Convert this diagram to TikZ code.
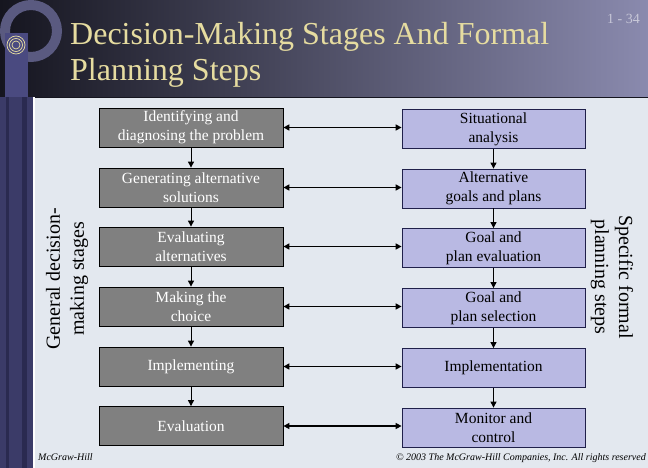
\documentclass[tikz,border=0pt]{standalone}
\usepackage{fontspec}
\setmainfont{Liberation Serif}
\usetikzlibrary{arrows.meta}
\definecolor{bgc}{HTML}{E3E8EF}
\definecolor{hdl}{HTML}{15151F}
\definecolor{hdm}{HTML}{474762}
\definecolor{hdr}{HTML}{8A8AAE}
\definecolor{sidec}{HTML}{3B3B68}
\definecolor{sided}{HTML}{2A2A50}
\definecolor{ringc}{HTML}{5A5A80}
\definecolor{barc}{HTML}{4A4A80}
\definecolor{titlec}{HTML}{E6DCA0}
\definecolor{pagec}{HTML}{C8C8D8}
\definecolor{lboxc}{HTML}{808080}
\definecolor{rboxc}{HTML}{B9B9E3}
\definecolor{rdraw}{HTML}{20204A}
\tikzset{
  lbox/.style={draw=black, fill=lboxc, line width=0.8pt, minimum width=184pt, minimum height=39pt,
    inner sep=0pt, align=center, text=white, font=\fontsize{15.5}{19}\selectfont},
  rbox/.style={draw=rdraw, fill=rboxc, line width=0.8pt, minimum width=183pt, minimum height=39pt,
    inner sep=0pt, align=center, text=black, font=\fontsize{15.5}{19}\selectfont},
  harrow/.style={line width=1.5pt, {Triangle[length=6pt,width=6pt]}-{Triangle[length=6pt,width=6pt]}},
  varrow/.style={line width=1pt, -{Triangle[length=6pt,width=6pt]}},
  sidelab/.style={align=center, font=\fontsize{20}{24}\selectfont, text=black},
  foot/.style={font=\fontsize{10}{12}\selectfont\itshape, text=black, inner sep=0pt}
}
\begin{document}
\begin{tikzpicture}[x=1pt,y=-1pt]
\useasboundingbox (0,0) rectangle (648,468);
% background
\fill[bgc] (0,0) rectangle (648,468);
\shade[left color=hdl, middle color=hdm, right color=hdr] (0,0) rectangle (648,97);
% sidebar
\fill[sidec] (0,97) rectangle (33,468);
\fill[sided] (6,97) rectangle (9,468);
\fill[sided] (22,97) rectangle (27,468);
\fill[white] (33,97) rectangle (35,468);
\draw[line width=0.6pt, hdl] (35,97.5) -- (648,97.5);
% ring and bar decoration
\draw[ringc, line width=10pt] (31,31) circle (26);
\fill[barc] (5,33) rectangle (28,97);
\foreach \r in {9,6.5,4} \draw[titlec, line width=0.7pt] (16,45) circle (\r);
% title
\node[anchor=base west, inner sep=0pt, text=titlec, font=\fontsize{32}{36}\selectfont] (t1) at (70,45) {Decision-Making Stages And Formal};
\node[anchor=base west, inner sep=0pt, text=titlec, font=\fontsize{32}{36}\selectfont] (t2) at (70,81) {Planning Steps};
\node[anchor=base east, inner sep=0pt, text=pagec, font=\fontsize{14}{16}\selectfont] (pg) at (640,24) {1 - 34};
% left column
\node[lbox] (l1) at (191,127.5) {Identifying and\\diagnosing the problem};
\node[lbox] (l2) at (191,187.5) {Generating alternative\\solutions};
\node[lbox] (l3) at (191,246.5) {Evaluating\\alternatives};
\node[lbox] (l4) at (191,306.5) {Making the\\choice};
\node[lbox] (l5) at (191,366.5) {Implementing};
\node[lbox] (l6) at (191,426) {Evaluation};
% right column
\node[rbox] (r1) at (493.5,129) {Situational\\analysis};
\node[rbox] (r2) at (493.5,188.5) {Alternative\\goals and plans};
\node[rbox] (r3) at (493.5,248) {Goal and\\plan evaluation};
\node[rbox] (r4) at (493.5,308) {Goal and\\plan selection};
\node[rbox] (r5) at (493.5,368) {Implementation};
\node[rbox] (r6) at (493.5,427.5) {Monitor and\\control};
% vertical arrows
\foreach \a/\b in {l1/l2,l2/l3,l3/l4,l4/l5,l5/l6,r1/r2,r2/r3,r3/r4,r4/r5,r5/r6}
  \draw[varrow] (\a.south) -- (\b.north);
% horizontal arrows
\foreach \i in {1,...,6}
  \draw[harrow] (l\i.east) -- (l\i.east -| r\i.west);
% side labels
\node[sidelab, rotate=90] (gl) at (67,279) {General decision-\\making stages};
\node[sidelab, rotate=-90] (sl) at (612,277) {Specific formal\\planning steps};
% footers
\node[foot, anchor=base west] (f1) at (38,460) {McGraw-Hill};
\node[foot, anchor=base east] (f2) at (646,460) {© 2003 The McGraw-Hill Companies, Inc. All rights reserved};
\end{tikzpicture}
\end{document}
